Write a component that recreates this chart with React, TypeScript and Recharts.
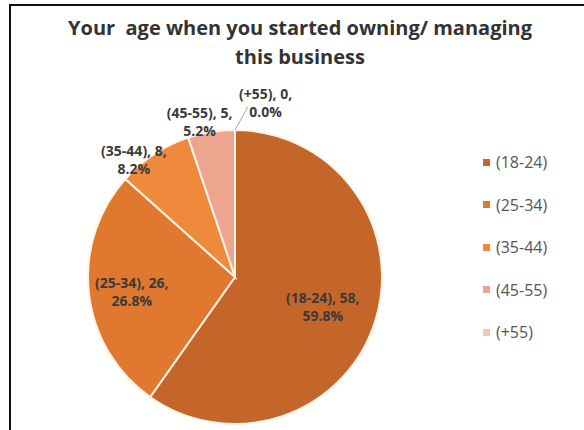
import React from "react";
import { PieChart, Pie, Cell, Legend } from "recharts";

const categories = ["(18-24)", "(25-34)", "(35-44)", "(45-55)", "(+55)"];
const counts = [58, 26, 8, 5, 0];
const colors = ["#C4652A", "#E1782F", "#EF8A3D", "#EEA58F", "#F4C4B6"];

const data = categories.map((name, i) => ({ name, value: counts[i] }));

const RAD = Math.PI / 180;
// label placement tweaks, Excel "best fit" style
const NUDGE = [
  { r: 0.63, a: -1 },
  { r: 0.71, a: 2 },
  { r: 1.05, a: 7.5 },
  { r: 1.08, a: 3.6 },
  { r: 1.2, a: -10 },
];

function renderLabel(p: any) {
  const { cx, cy, midAngle, outerRadius, percent, index, name, value } = p;
  const n = NUDGE[index];
  const ang = (midAngle + n.a) * RAD;
  const rr = outerRadius * n.r;
  const x = cx + rr * Math.cos(ang);
  const y = cy - rr * Math.sin(ang);
  let leader = null;
  if (value === 0) {
    const a0 = midAngle * RAD;
    const a1 = (midAngle - 4.3) * RAD;
    leader = (
      <line
        x1={cx + outerRadius * Math.cos(a0)}
        y1={cy - outerRadius * Math.sin(a0)}
        x2={cx + outerRadius * 1.16 * Math.cos(a1)}
        y2={cy - outerRadius * 1.16 * Math.sin(a1)}
        stroke="#a6a6a6"
        strokeWidth={1}
      />
    );
  }
  return (
    <g>
      {leader}
      <text
        x={x}
        y={y}
        textAnchor="middle"
        fill="#3a3a3a"
        fontSize={14}
        fontWeight="bold"
        fontFamily="'Open Sans', sans-serif"
      >
        <tspan x={x} dy={-4}>{`${name}, ${value},`}</tspan>
        <tspan x={x} dy={18}>{`${(percent * 100).toFixed(1)}%`}</tspan>
      </text>
    </g>
  );
}

function LegendBox() {
  return (
    <div>
      {categories.map((c, i) => (
        <div
          key={c}
          style={{ height: 42.5, display: "flex", alignItems: "center", fontFamily: "'Open Sans', sans-serif", fontSize: 16, color: "#555" }}
        >
          <span style={{ display: "inline-block", width: 7, height: 7, background: colors[i], marginRight: 6 }} />
          {c}
        </div>
      ))}
    </div>
  );
}

export default function App() {
  return (
    <div style={{ position: "absolute", left: 0, top: 0, width: 584, height: 430, background: "#fff", overflow: "hidden" }}>
      <div style={{ position: "absolute", left: 9, top: 4, right: 0, bottom: 0, borderTop: "2px solid #111", borderLeft: "2px solid #111" }} />
      <div
        style={{
          position: "absolute",
          left: 0,
          width: 600,
          top: 13,
          textAlign: "center",
          fontFamily: "'Open Sans', sans-serif",
          fontWeight: "bold",
          fontSize: 20,
          lineHeight: "29px",
          color: "#333",
        }}
      >
        Your&nbsp; age when you started owning/ managing
        <br />
        this business
      </div>
      <div style={{ position: "absolute", left: 0, top: 0 }}>
        <PieChart width={584} height={430}>
          <Pie
            data={data}
            dataKey="value"
            nameKey="name"
            cx={230}
            cy={272}
            outerRadius={147}
            startAngle={90}
            endAngle={-270}
            stroke="#FFF3E6"
            strokeWidth={2}
            label={renderLabel}
            labelLine={false}
            isAnimationActive={false}
          >
            {data.map((d, i) => (
              <Cell key={d.name} fill={colors[i]} />
            ))}
          </Pie>
          <Legend
            layout="vertical"
            content={() => <LegendBox />}
            wrapperStyle={{ position: "absolute", left: 483, top: 141, width: 100 }}
          />
        </PieChart>
      </div>
    </div>
  );
}
